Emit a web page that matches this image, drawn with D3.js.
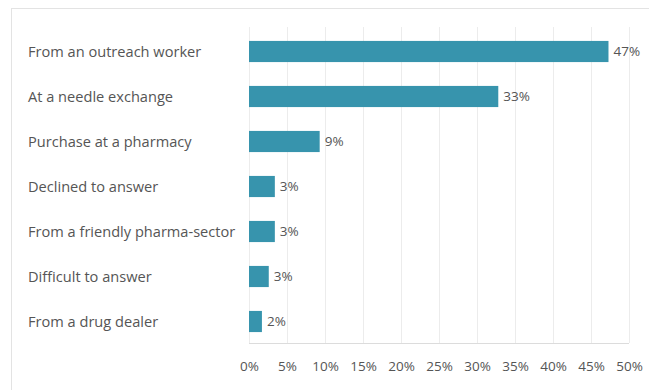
<!DOCTYPE html>
<html>
<head>
<meta charset="utf-8">
<script src="https://cdn.jsdelivr.net/npm/d3@7/dist/d3.min.js"></script>
<style>
  html, body { margin: 0; padding: 0; background: #fff; }
  svg text { font-family: "Open Sans", "DejaVu Sans", sans-serif; fill: #555; }
</style>
</head>
<body>
<svg id="chart" width="649" height="390"></svg>
<script>
// Where respondents obtain syringes (share of respondents, %)
const categories = [
  "From an outreach worker",
  "At a needle exchange",
  "Purchase at a pharmacy",
  "Declined to answer",
  "From a friendly pharma-sector",
  "Difficult to answer",
  "From a drug dealer"
];
const values = [47.3, 32.8, 9.3, 3.4, 3.4, 2.6, 1.7];
const xTicks = [0, 5, 10, 15, 20, 25, 30, 35, 40, 45, 50];

const svg = d3.select("#chart");
const W = 649, H = 390;

// outer frame
svg.append("rect")
  .attr("x", 11.5).attr("y", 8.5)
  .attr("width", W + 10).attr("height", H + 10)
  .attr("fill", "none").attr("stroke", "#e3e3e3");

const x = d3.scaleLinear().domain([0, 50]).range([249, 629]);
const y = d3.scaleBand().domain(categories).range([29, 344]).paddingInner(0.53).paddingOuter(0.265);

// vertical gridlines
svg.append("g").selectAll("line")
  .data(xTicks)
  .join("line")
  .attr("x1", d => Math.round(x(d)) + 0.5)
  .attr("x2", d => Math.round(x(d)) + 0.5)
  .attr("y1", 27).attr("y2", 343)
  .attr("stroke", "#ececec");

// baseline axis
svg.append("line")
  .attr("x1", x(0)).attr("x2", x(50))
  .attr("y1", 343.5).attr("y2", 343.5)
  .attr("stroke", "#dcdcdc");

// x tick labels
const xAxis = d3.axisBottom(x).tickValues(xTicks).tickSize(0).tickPadding(0)
  .tickFormat(d => d + "%");
const gx = svg.append("g").attr("transform", "translate(0,361)").call(xAxis);
gx.select(".domain").remove();
gx.selectAll("text").attr("font-size", 13.5).attr("dy", "0.71em")
  .style("font-family", "\"Open Sans\", sans-serif").attr("fill", "#555");

// bars
svg.append("g").selectAll("rect")
  .data(values)
  .join("rect")
  .attr("x", x(0))
  .attr("y", (d, i) => y(categories[i]))
  .attr("width", d => x(d) - x(0))
  .attr("height", y.bandwidth())
  .attr("fill", "#3794ad");

// value labels
svg.append("g").selectAll("text")
  .data(values)
  .join("text")
  .attr("x", d => x(d) + 5)
  .attr("y", (d, i) => y(categories[i]) + y.bandwidth() / 2)
  .attr("dy", "0.35em")
  .attr("font-size", 13.5)
  .text(d => Math.round(d) + "%");

// category labels
svg.append("g").selectAll("text")
  .data(categories)
  .join("text")
  .attr("x", 28)
  .attr("y", d => y(d) + y.bandwidth() / 2)
  .attr("dy", "0.35em")
  .attr("font-size", 14.6)
  .text(d => d);
</script>
</body>
</html>
